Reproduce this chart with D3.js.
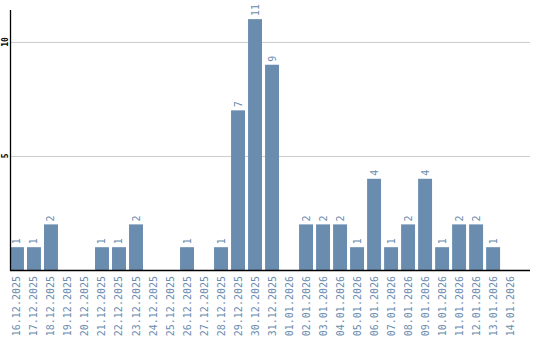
<!DOCTYPE html>
<html>
<head>
<meta charset="utf-8">
<script src="https://cdn.jsdelivr.net/npm/d3@7"></script>
<style>
  body { margin: 0; background: #fff; }
  svg { display: block; }
</style>
</head>
<body>
<svg id="chart" width="540" height="340"></svg>
<script>
const dates = ["16.12.2025","17.12.2025","18.12.2025","19.12.2025","20.12.2025","21.12.2025","22.12.2025","23.12.2025","24.12.2025","25.12.2025","26.12.2025","27.12.2025","28.12.2025","29.12.2025","30.12.2025","31.12.2025","01.01.2026","02.01.2026","03.01.2026","04.01.2026","05.01.2026","06.01.2026","07.01.2026","08.01.2026","09.01.2026","10.01.2026","11.01.2026","12.01.2026","13.01.2026","14.01.2026"];
const counts = [1,1,2,0,0,1,1,2,0,0,1,0,1,7,11,9,0,2,2,2,1,4,1,2,4,1,2,2,1,0];
const yTicks = [5, 10];

const barColor = "#6a8caf";
const svg = d3.select("#chart");

const x = d3.scaleBand().domain(dates).range([10, 530])
  .paddingInner(0.18).paddingOuter(0.38).align(0);
const y = d3.scaleLinear().domain([0, 11.4]).range([270, 10]);

// grid
svg.append("g").selectAll("line").data(yTicks).join("line")
  .attr("x1", 10).attr("x2", 530)
  .attr("y1", d => y(d) + 0.5).attr("y2", d => y(d) + 0.5)
  .attr("stroke", "#cccccc").attr("stroke-width", 1);

// bars
const data = dates.map((d, i) => ({date: d, v: counts[i]}));
svg.append("g").selectAll("rect").data(data.filter(d => d.v > 0)).join("rect")
  .attr("x", d => x(d.date))
  .attr("width", x.bandwidth())
  .attr("y", d => y(d.v))
  .attr("height", d => y(0) - y(d.v))
  .attr("fill", barColor);

// value labels
svg.append("g").selectAll("text").data(data.filter(d => d.v > 0)).join("text")
  .attr("transform", d => `translate(${x(d.date) + x.bandwidth() / 2},${y(d.v) - 3}) rotate(-90)`)
  .attr("dy", "0.35em")
  .attr("text-anchor", "start")
  .attr("fill", barColor)
  .style("font", "10px 'DejaVu Sans Mono', monospace")
  .text(d => d.v);

// x labels
svg.append("g").selectAll("text").data(dates).join("text")
  .attr("transform", d => `translate(${x(d) + x.bandwidth() / 2},276) rotate(-90)`)
  .attr("dy", "0.35em")
  .attr("text-anchor", "end")
  .attr("fill", barColor)
  .style("font", "10px 'DejaVu Sans Mono', monospace")
  .text(d => d);

// y tick labels
svg.append("g").selectAll("text").data(yTicks).join("text")
  .attr("transform", d => `translate(5,${y(d)}) rotate(-90)`)
  .attr("dy", "0.35em")
  .attr("text-anchor", "middle")
  .attr("fill", "#000")
  .style("font", "bold 8px 'DejaVu Sans Mono', monospace")
  .text(d => d);

// axes lines
svg.append("line").attr("x1", 10.5).attr("x2", 10.5).attr("y1", 10).attr("y2", 270.5)
  .attr("stroke", "#000").attr("stroke-width", 1.3);
svg.append("line").attr("x1", 10).attr("x2", 530).attr("y1", 270.5).attr("y2", 270.5)
  .attr("stroke", "#000").attr("stroke-width", 1.3);
</script>
</body>
</html>
